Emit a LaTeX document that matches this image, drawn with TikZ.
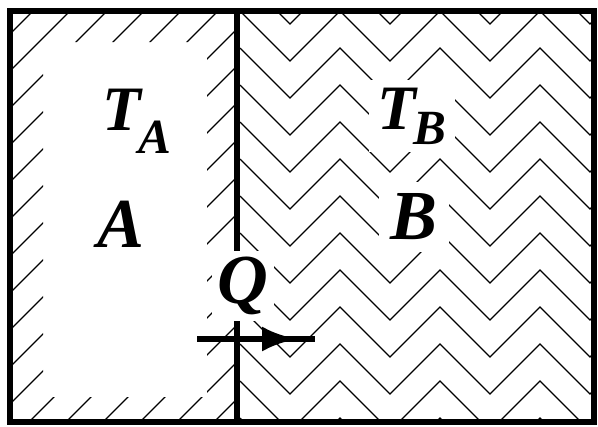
\documentclass[tikz,border=0pt]{standalone}
\usepackage{fontspec}
\setmainfont{Liberation Serif}
\usepackage{tikz}
\usetikzlibrary{arrows.meta}
\newcommand{\Tsub}[2]{{\fontsize{36}{40}\selectfont T}\kern-0.4mm\raisebox{-#2}{\fontsize{28}{30}\selectfont #1}}

\begin{document}
\begin{tikzpicture}[x=0.2mm,y=-0.2mm,
  wall/.style={line width=1.2mm},
  hatch/.style={line width=.75pt},
  lbl/.style={fill=white,inner sep=2.4mm,font=\fontsize{40}{48}\selectfont\bfseries\itshape},
  ar/.style={line width=1.2mm,-{Latex[length=7mm,width=5mm]}}]

\useasboundingbox (0,0) rectangle (598,426);

% wall hatching, room A
\begin{scope}[even odd rule]
  \clip (10,10) rectangle (237,422) (43,42) rectangle (207,397);
  \foreach \c in {44,81,...,673} \draw[hatch] (\c-450,450) -- (\c,0);
\end{scope}

% zigzag filling, room B
\begin{scope}
  \clip (237,10) rectangle (594,422);
  \foreach \r in {-26,11,...,418}
    \draw[hatch] (240,\r) \foreach \j in {1,...,4} {-- ++(50,50) -- ++(50,-50)};
\end{scope}

\draw[wall] (237,10) -- (237,422);
\draw[wall] (10,10.5) rectangle (594,422);

\node[lbl,inner sep=1.6mm] (ta) at (137,121) {\Tsub{A}{4.6mm}};
\node[lbl,inner sep=1.6mm] (tb) at (412,116) {\Tsub{B}{3mm}};
\node[lbl] (a)  at (121,224) {A};
\node[lbl] (b)  at (414,217) {B};
\node[lbl,inner sep=1.2mm] (q) at (243,286) {Q};

% heat flow
\coordinate (qs) at (197,339);
\coordinate (qm) at (297,339);
\coordinate (qe) at (315,339);
\draw[line width=1.2mm] (qs) -- (qe);
\draw[ar] (qs) -- (qm);

\end{tikzpicture}
\end{document}
